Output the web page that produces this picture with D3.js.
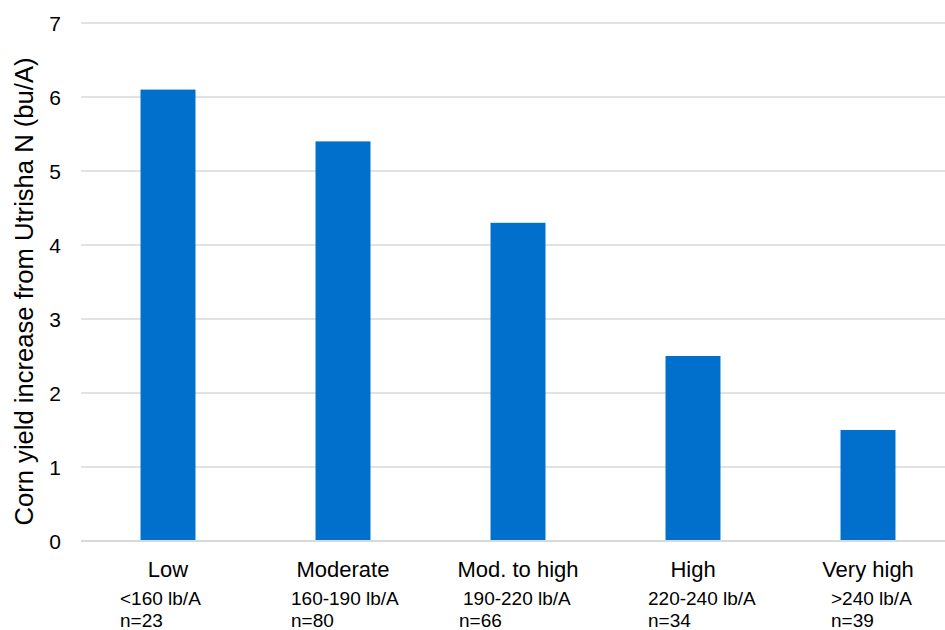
<!DOCTYPE html>
<html><head><meta charset="utf-8">
<script src="https://cdn.jsdelivr.net/npm/d3@7"></script>
<style>body{margin:0;background:#fff}svg{display:block;font-family:"Liberation Sans",Arial,sans-serif}</style>
</head><body>
<svg id="c" width="945" height="630"></svg>
<script>
const categories = ["Low","Moderate","Mod. to high","High","Very high"];
const rates = ["<160 lb/A","160-190 lb/A","190-220 lb/A","220-240 lb/A",">240 lb/A"];
const counts = ["n=23","n=80","n=66","n=34","n=39"];
const values = [6.1,5.4,4.3,2.5,1.5];
const yTicks = [0,1,2,3,4,5,6,7];
const yTitle = "Corn yield increase from Utrisha N (bu/A)";

// layout (not data)
const subDx = [-48,-52,-55,-45,-37];
const subDx2 = [-48,-52,-59,-45,-37];

const svg = d3.select("#c");
const x = d3.scaleBand().domain(categories).range([80.5,955.5]).paddingInner(0.686).paddingOuter(0.343);
const y = d3.scaleLinear().domain([0,7]).range([541,23]);

svg.append("g").selectAll("line").data(yTicks.filter(d=>d>0)).join("line")
  .attr("x1",81).attr("x2",945).attr("y1",d=>y(d)).attr("y2",d=>y(d))
  .attr("stroke","#d9d9d9").attr("stroke-width",1.3);

svg.append("g").selectAll("rect").data(values).join("rect")
  .attr("x",(d,i)=>x(categories[i])).attr("width",x.bandwidth())
  .attr("y",d=>y(d)).attr("height",d=>y(0)-y(d)).attr("fill","#0070cc");

svg.append("line").attr("x1",81).attr("x2",945).attr("y1",y(0)).attr("y2",y(0))
  .attr("stroke","#d9d9d9").attr("stroke-width",2);

svg.append("g").selectAll("text").data(yTicks).join("text")
  .attr("x",61).attr("y",d=>y(d)).attr("dy","0.36em").attr("text-anchor","end")
  .attr("font-size",21).attr("fill","#000").text(d=>d);

svg.append("text").attr("transform","translate(32.5,291.5) rotate(-90)")
  .attr("text-anchor","middle").attr("font-size",25.6).attr("fill","#000").text(yTitle);

const cx = c => x(c)+x.bandwidth()/2;
svg.append("g").selectAll("text").data(categories).join("text")
  .attr("x",d=>cx(d)).attr("y",577).attr("text-anchor","middle")
  .attr("font-size",22).attr("fill","#000").text(d=>d);
svg.append("g").selectAll("text").data(rates).join("text")
  .attr("x",(d,i)=>cx(categories[i])+subDx[i]).attr("y",605)
  .attr("font-size",19).attr("fill","#000").text(d=>d);
svg.append("g").selectAll("text").data(counts).join("text")
  .attr("x",(d,i)=>cx(categories[i])+subDx2[i]).attr("y",626.5)
  .attr("font-size",19).attr("fill","#000").text(d=>d);
</script>
</body></html>
